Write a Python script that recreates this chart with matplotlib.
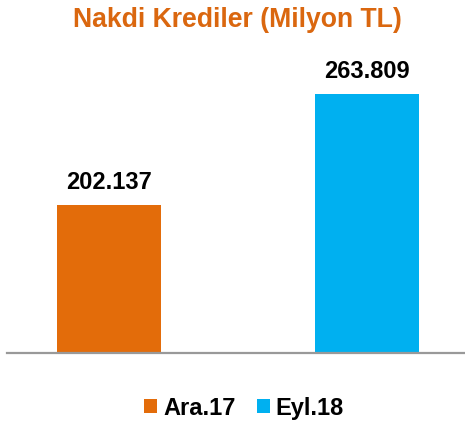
import matplotlib
matplotlib.use("Agg")
import matplotlib.pyplot as plt
from matplotlib.patches import Patch

categories = ["Ara.17", "Eyl.18"]
values = [202.137, 263.809]
labels = ["202.137", "263.809"]
colors = ["#E36C0A", "#00B0F0"]
title = "Nakdi Krediler (Milyon TL)"

plt.rcParams['font.family'] = ['Liberation Sans', 'DejaVu Sans']

W, H = 465, 423
fig = plt.figure(figsize=(W/100, H/100), dpi=100)
ax = fig.add_axes([7/W, (H-353)/H, 458/W, (353-60)/H])

x = [0, 1]
ax.bar(x, values, width=0.403, color=colors, zorder=2)
ax.set_xlim(-0.395, 1.380)
ax.set_ylim(120, 120 + 293/1.8)

for xi, v, lab in zip(x, values, labels):
    ax.annotate(lab, (xi, v), xytext=(0, 8), textcoords='offset points',
                ha='center', va='bottom', fontsize=17, fontweight='bold', color='black')

for s in ['top', 'right', 'left']:
    ax.spines[s].set_visible(False)
ax.spines['bottom'].set_color('#999999')
ax.spines['bottom'].set_linewidth(1.6)
ax.set_xticks([])
ax.set_yticks([])

fig.text(237.5/W, (H-27)/H, title, ha='center', va='baseline', fontsize=19.2,
         fontweight='bold', color='#DA670F')

handles = [Patch(facecolor=c, edgecolor='none') for c in colors]
leg = fig.legend(handles, categories, loc='center', bbox_to_anchor=(244/W, (H-408)/H),
                 ncol=2, frameon=False, handlelength=0.55, handleheight=0.55,
                 handletextpad=0.25, columnspacing=0.9,
                 prop={'size': 17, 'weight': 'bold'})

fig.savefig("out.png", dpi=100)
